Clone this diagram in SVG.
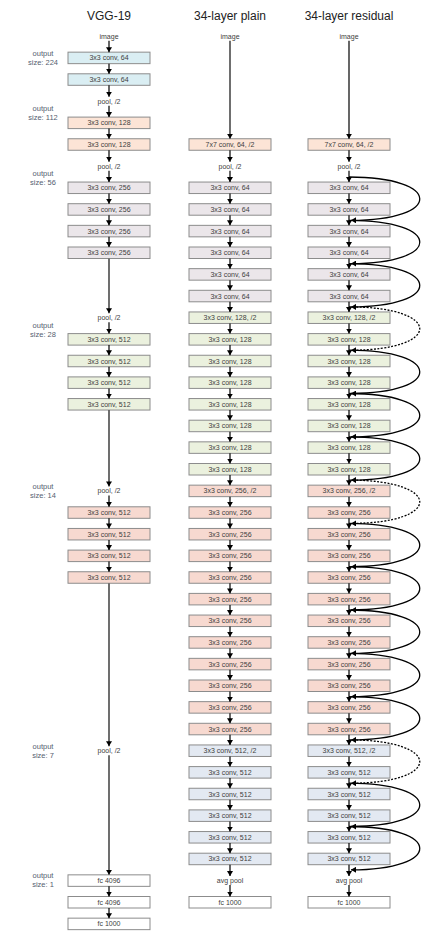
<svg xmlns="http://www.w3.org/2000/svg" width="423" height="931" viewBox="0 0 423 931">
<defs>
<marker id="ah" markerUnits="userSpaceOnUse" viewBox="0 0 5 6" markerWidth="5" markerHeight="6" refX="5" refY="3" orient="auto"><path d="M0,0 L5,3 L0,6 z" fill="#000"/></marker>
<style>
rect{stroke:#8c8c8c;stroke-width:1}
.blue{fill:#daeef3}.peach{fill:#fce4d6}.lav{fill:#ebe6ea}.green{fill:#ebf1de}.pink{fill:#f7d9d0}.steel{fill:#e3e9f2}.white{fill:#fff}
text{font-family:"Liberation Sans",Arial,sans-serif;font-size:7px;fill:#404040;text-anchor:middle}
.title{font-size:12px;fill:#222}
.os{font-size:7.5px;fill:#556070}
.a{stroke:#000;stroke-width:1.2;marker-end:url(#ah)}
.L{stroke:#5f5f5f;stroke-width:1.8;marker-end:url(#ah)}
.s{fill:none;stroke:#000;stroke-width:1.3;marker-end:url(#ah)}
.d{fill:none;stroke:#000;stroke-width:1.3;stroke-dasharray:2 1.5;marker-end:url(#ah)}
</style>
</defs>
<rect x="0" y="0" width="423" height="931" style="fill:#fff;stroke:none"/>
<g id="titles">
<text class="title" x="109" y="20">VGG-19</text>
<text class="title" x="230" y="20">34-layer plain</text>
<text class="title" x="349" y="20">34-layer residual</text>
</g>
<g id="output-sizes">
<text class="os" x="43" y="55.5">output</text><text class="os" x="43" y="64.5">size: 224</text>
<text class="os" x="43" y="110.5">output</text><text class="os" x="43" y="119.5">size: 112</text>
<text class="os" x="43" y="175.5">output</text><text class="os" x="43" y="185">size: 56</text>
<text class="os" x="43" y="327.5">output</text><text class="os" x="43" y="337">size: 28</text>
<text class="os" x="43" y="488.5">output</text><text class="os" x="43" y="498">size: 14</text>
<text class="os" x="43" y="748.5">output</text><text class="os" x="43" y="758">size: 7</text>
<text class="os" x="43" y="877.5">output</text><text class="os" x="43" y="887">size: 1</text>
</g>
<!-- VGG-19 -->
<g id="v-image"><text x="109" y="38.75">image</text></g>
<g id="v1"><rect class="blue" x="68" y="52.15" width="82" height="11.5"/><text x="109" y="60.4">3x3 conv, 64</text></g>
<g id="v2"><rect class="blue" x="68" y="73.8" width="82" height="11.5"/><text x="109" y="82.05">3x3 conv, 64</text></g>
<g id="v-pool1"><text x="109" y="103.7">pool, /2</text></g>
<g id="v3"><rect class="peach" x="68" y="117.1" width="82" height="11.5"/><text x="109" y="125.35">3x3 conv, 128</text></g>
<g id="v4"><rect class="peach" x="68" y="138.75" width="82" height="11.5"/><text x="109" y="147">3x3 conv, 128</text></g>
<g id="v-pool2"><text x="109" y="168.65">pool, /2</text></g>
<g id="v5"><rect class="lav" x="68" y="182.05" width="82" height="11.5"/><text x="109" y="190.3">3x3 conv, 256</text></g>
<g id="v6"><rect class="lav" x="68" y="203.7" width="82" height="11.5"/><text x="109" y="211.95">3x3 conv, 256</text></g>
<g id="v7"><rect class="lav" x="68" y="225.35" width="82" height="11.5"/><text x="109" y="233.6">3x3 conv, 256</text></g>
<g id="v8"><rect class="lav" x="68" y="247" width="82" height="11.5"/><text x="109" y="255.25">3x3 conv, 256</text></g>
<g id="v-pool3"><text x="109" y="320.2">pool, /2</text></g>
<g id="v9"><rect class="green" x="68" y="333.6" width="82" height="11.5"/><text x="109" y="341.85">3x3 conv, 512</text></g>
<g id="v10"><rect class="green" x="68" y="355.25" width="82" height="11.5"/><text x="109" y="363.5">3x3 conv, 512</text></g>
<g id="v11"><rect class="green" x="68" y="376.9" width="82" height="11.5"/><text x="109" y="385.15">3x3 conv, 512</text></g>
<g id="v12"><rect class="green" x="68" y="398.55" width="82" height="11.5"/><text x="109" y="406.8">3x3 conv, 512</text></g>
<g id="v-pool4"><text x="109" y="493.4">pool, /2</text></g>
<g id="v13"><rect class="pink" x="68" y="506.8" width="82" height="11.5"/><text x="109" y="515.05">3x3 conv, 512</text></g>
<g id="v14"><rect class="pink" x="68" y="528.45" width="82" height="11.5"/><text x="109" y="536.7">3x3 conv, 512</text></g>
<g id="v15"><rect class="pink" x="68" y="550.1" width="82" height="11.5"/><text x="109" y="558.35">3x3 conv, 512</text></g>
<g id="v16"><rect class="pink" x="68" y="571.75" width="82" height="11.5"/><text x="109" y="580">3x3 conv, 512</text></g>
<g id="v-pool5"><text x="109" y="753.2">pool, /2</text></g>
<g id="v-fc1"><rect class="white" x="68" y="874.85" width="82" height="11.5"/><text x="109" y="883.1">fc 4096</text></g>
<g id="v-fc2"><rect class="white" x="68" y="896.5" width="82" height="11.5"/><text x="109" y="904.75">fc 4096</text></g>
<g id="v-fc3"><rect class="white" x="68" y="918.15" width="82" height="11.5"/><text x="109" y="926.4">fc 1000</text></g>
<!-- plain -->
<g id="p-image"><text x="230" y="38.75">image</text></g>
<g id="p0"><rect class="peach" x="189" y="138.75" width="82" height="11.5"/><text x="230" y="147">7x7 conv, 64, /2</text></g>
<g id="p-pool"><text x="230" y="168.65">pool, /2</text></g>
<g id="p1"><rect class="lav" x="189" y="182.05" width="82" height="11.5"/><text x="230" y="190.3">3x3 conv, 64</text></g>
<g id="p2"><rect class="lav" x="189" y="203.7" width="82" height="11.5"/><text x="230" y="211.95">3x3 conv, 64</text></g>
<g id="p3"><rect class="lav" x="189" y="225.35" width="82" height="11.5"/><text x="230" y="233.6">3x3 conv, 64</text></g>
<g id="p4"><rect class="lav" x="189" y="247" width="82" height="11.5"/><text x="230" y="255.25">3x3 conv, 64</text></g>
<g id="p5"><rect class="lav" x="189" y="268.65" width="82" height="11.5"/><text x="230" y="276.9">3x3 conv, 64</text></g>
<g id="p6"><rect class="lav" x="189" y="290.3" width="82" height="11.5"/><text x="230" y="298.55">3x3 conv, 64</text></g>
<g id="p7"><rect class="green" x="189" y="311.95" width="82" height="11.5"/><text x="230" y="320.2">3x3 conv, 128, /2</text></g>
<g id="p8"><rect class="green" x="189" y="333.6" width="82" height="11.5"/><text x="230" y="341.85">3x3 conv, 128</text></g>
<g id="p9"><rect class="green" x="189" y="355.25" width="82" height="11.5"/><text x="230" y="363.5">3x3 conv, 128</text></g>
<g id="p10"><rect class="green" x="189" y="376.9" width="82" height="11.5"/><text x="230" y="385.15">3x3 conv, 128</text></g>
<g id="p11"><rect class="green" x="189" y="398.55" width="82" height="11.5"/><text x="230" y="406.8">3x3 conv, 128</text></g>
<g id="p12"><rect class="green" x="189" y="420.2" width="82" height="11.5"/><text x="230" y="428.45">3x3 conv, 128</text></g>
<g id="p13"><rect class="green" x="189" y="441.85" width="82" height="11.5"/><text x="230" y="450.1">3x3 conv, 128</text></g>
<g id="p14"><rect class="green" x="189" y="463.5" width="82" height="11.5"/><text x="230" y="471.75">3x3 conv, 128</text></g>
<g id="p15"><rect class="pink" x="189" y="485.15" width="82" height="11.5"/><text x="230" y="493.4">3x3 conv, 256, /2</text></g>
<g id="p16"><rect class="pink" x="189" y="506.8" width="82" height="11.5"/><text x="230" y="515.05">3x3 conv, 256</text></g>
<g id="p17"><rect class="pink" x="189" y="528.45" width="82" height="11.5"/><text x="230" y="536.7">3x3 conv, 256</text></g>
<g id="p18"><rect class="pink" x="189" y="550.1" width="82" height="11.5"/><text x="230" y="558.35">3x3 conv, 256</text></g>
<g id="p19"><rect class="pink" x="189" y="571.75" width="82" height="11.5"/><text x="230" y="580">3x3 conv, 256</text></g>
<g id="p20"><rect class="pink" x="189" y="593.4" width="82" height="11.5"/><text x="230" y="601.65">3x3 conv, 256</text></g>
<g id="p21"><rect class="pink" x="189" y="615.05" width="82" height="11.5"/><text x="230" y="623.3">3x3 conv, 256</text></g>
<g id="p22"><rect class="pink" x="189" y="636.7" width="82" height="11.5"/><text x="230" y="644.95">3x3 conv, 256</text></g>
<g id="p23"><rect class="pink" x="189" y="658.35" width="82" height="11.5"/><text x="230" y="666.6">3x3 conv, 256</text></g>
<g id="p24"><rect class="pink" x="189" y="680" width="82" height="11.5"/><text x="230" y="688.25">3x3 conv, 256</text></g>
<g id="p25"><rect class="pink" x="189" y="701.65" width="82" height="11.5"/><text x="230" y="709.9">3x3 conv, 256</text></g>
<g id="p26"><rect class="pink" x="189" y="723.3" width="82" height="11.5"/><text x="230" y="731.55">3x3 conv, 256</text></g>
<g id="p27"><rect class="steel" x="189" y="744.95" width="82" height="11.5"/><text x="230" y="753.2">3x3 conv, 512, /2</text></g>
<g id="p28"><rect class="steel" x="189" y="766.6" width="82" height="11.5"/><text x="230" y="774.85">3x3 conv, 512</text></g>
<g id="p29"><rect class="steel" x="189" y="788.25" width="82" height="11.5"/><text x="230" y="796.5">3x3 conv, 512</text></g>
<g id="p30"><rect class="steel" x="189" y="809.9" width="82" height="11.5"/><text x="230" y="818.15">3x3 conv, 512</text></g>
<g id="p31"><rect class="steel" x="189" y="831.55" width="82" height="11.5"/><text x="230" y="839.8">3x3 conv, 512</text></g>
<g id="p32"><rect class="steel" x="189" y="853.2" width="82" height="11.5"/><text x="230" y="861.45">3x3 conv, 512</text></g>
<g id="p-avgpool"><text x="230" y="883.1">avg pool</text></g>
<g id="p-fc"><rect class="white" x="189" y="896.5" width="82" height="11.5"/><text x="230" y="904.75">fc 1000</text></g>
<!-- residual -->
<g id="r-image"><text x="349" y="38.75">image</text></g>
<g id="r0"><rect class="peach" x="308" y="138.75" width="82" height="11.5"/><text x="349" y="147">7x7 conv, 64, /2</text></g>
<g id="r-pool"><text x="349" y="168.65">pool, /2</text></g>
<g id="r1"><rect class="lav" x="308" y="182.05" width="82" height="11.5"/><text x="349" y="190.3">3x3 conv, 64</text></g>
<g id="r2"><rect class="lav" x="308" y="203.7" width="82" height="11.5"/><text x="349" y="211.95">3x3 conv, 64</text></g>
<g id="r3"><rect class="lav" x="308" y="225.35" width="82" height="11.5"/><text x="349" y="233.6">3x3 conv, 64</text></g>
<g id="r4"><rect class="lav" x="308" y="247" width="82" height="11.5"/><text x="349" y="255.25">3x3 conv, 64</text></g>
<g id="r5"><rect class="lav" x="308" y="268.65" width="82" height="11.5"/><text x="349" y="276.9">3x3 conv, 64</text></g>
<g id="r6"><rect class="lav" x="308" y="290.3" width="82" height="11.5"/><text x="349" y="298.55">3x3 conv, 64</text></g>
<g id="r7"><rect class="green" x="308" y="311.95" width="82" height="11.5"/><text x="349" y="320.2">3x3 conv, 128, /2</text></g>
<g id="r8"><rect class="green" x="308" y="333.6" width="82" height="11.5"/><text x="349" y="341.85">3x3 conv, 128</text></g>
<g id="r9"><rect class="green" x="308" y="355.25" width="82" height="11.5"/><text x="349" y="363.5">3x3 conv, 128</text></g>
<g id="r10"><rect class="green" x="308" y="376.9" width="82" height="11.5"/><text x="349" y="385.15">3x3 conv, 128</text></g>
<g id="r11"><rect class="green" x="308" y="398.55" width="82" height="11.5"/><text x="349" y="406.8">3x3 conv, 128</text></g>
<g id="r12"><rect class="green" x="308" y="420.2" width="82" height="11.5"/><text x="349" y="428.45">3x3 conv, 128</text></g>
<g id="r13"><rect class="green" x="308" y="441.85" width="82" height="11.5"/><text x="349" y="450.1">3x3 conv, 128</text></g>
<g id="r14"><rect class="green" x="308" y="463.5" width="82" height="11.5"/><text x="349" y="471.75">3x3 conv, 128</text></g>
<g id="r15"><rect class="pink" x="308" y="485.15" width="82" height="11.5"/><text x="349" y="493.4">3x3 conv, 256, /2</text></g>
<g id="r16"><rect class="pink" x="308" y="506.8" width="82" height="11.5"/><text x="349" y="515.05">3x3 conv, 256</text></g>
<g id="r17"><rect class="pink" x="308" y="528.45" width="82" height="11.5"/><text x="349" y="536.7">3x3 conv, 256</text></g>
<g id="r18"><rect class="pink" x="308" y="550.1" width="82" height="11.5"/><text x="349" y="558.35">3x3 conv, 256</text></g>
<g id="r19"><rect class="pink" x="308" y="571.75" width="82" height="11.5"/><text x="349" y="580">3x3 conv, 256</text></g>
<g id="r20"><rect class="pink" x="308" y="593.4" width="82" height="11.5"/><text x="349" y="601.65">3x3 conv, 256</text></g>
<g id="r21"><rect class="pink" x="308" y="615.05" width="82" height="11.5"/><text x="349" y="623.3">3x3 conv, 256</text></g>
<g id="r22"><rect class="pink" x="308" y="636.7" width="82" height="11.5"/><text x="349" y="644.95">3x3 conv, 256</text></g>
<g id="r23"><rect class="pink" x="308" y="658.35" width="82" height="11.5"/><text x="349" y="666.6">3x3 conv, 256</text></g>
<g id="r24"><rect class="pink" x="308" y="680" width="82" height="11.5"/><text x="349" y="688.25">3x3 conv, 256</text></g>
<g id="r25"><rect class="pink" x="308" y="701.65" width="82" height="11.5"/><text x="349" y="709.9">3x3 conv, 256</text></g>
<g id="r26"><rect class="pink" x="308" y="723.3" width="82" height="11.5"/><text x="349" y="731.55">3x3 conv, 256</text></g>
<g id="r27"><rect class="steel" x="308" y="744.95" width="82" height="11.5"/><text x="349" y="753.2">3x3 conv, 512, /2</text></g>
<g id="r28"><rect class="steel" x="308" y="766.6" width="82" height="11.5"/><text x="349" y="774.85">3x3 conv, 512</text></g>
<g id="r29"><rect class="steel" x="308" y="788.25" width="82" height="11.5"/><text x="349" y="796.5">3x3 conv, 512</text></g>
<g id="r30"><rect class="steel" x="308" y="809.9" width="82" height="11.5"/><text x="349" y="818.15">3x3 conv, 512</text></g>
<g id="r31"><rect class="steel" x="308" y="831.55" width="82" height="11.5"/><text x="349" y="839.8">3x3 conv, 512</text></g>
<g id="r32"><rect class="steel" x="308" y="853.2" width="82" height="11.5"/><text x="349" y="861.45">3x3 conv, 512</text></g>
<g id="r-avgpool"><text x="349" y="883.1">avg pool</text></g>
<g id="r-fc"><rect class="white" x="308" y="896.5" width="82" height="11.5"/><text x="349" y="904.75">fc 1000</text></g>
<g id="connectors">
<!-- VGG -->
<line class="a" x1="109" y1="40.75" x2="109" y2="52.15"/>
<line class="a" x1="109" y1="63.65" x2="109" y2="73.8"/>
<line class="a" x1="109" y1="85.3" x2="109" y2="96.7"/>
<line class="a" x1="109" y1="105.7" x2="109" y2="117.1"/>
<line class="a" x1="109" y1="128.6" x2="109" y2="138.75"/>
<line class="a" x1="109" y1="150.25" x2="109" y2="161.65"/>
<line class="a" x1="109" y1="170.65" x2="109" y2="182.05"/>
<line class="a" x1="109" y1="193.55" x2="109" y2="203.7"/>
<line class="a" x1="109" y1="215.2" x2="109" y2="225.35"/>
<line class="a" x1="109" y1="236.85" x2="109" y2="247"/>
<line class="L" x1="109" y1="258.5" x2="109" y2="313.2"/>
<line class="a" x1="109" y1="322.2" x2="109" y2="333.6"/>
<line class="a" x1="109" y1="345.1" x2="109" y2="355.25"/>
<line class="a" x1="109" y1="366.75" x2="109" y2="376.9"/>
<line class="a" x1="109" y1="388.4" x2="109" y2="398.55"/>
<line class="L" x1="109" y1="410.05" x2="109" y2="486.4"/>
<line class="a" x1="109" y1="495.4" x2="109" y2="506.8"/>
<line class="a" x1="109" y1="518.3" x2="109" y2="528.45"/>
<line class="a" x1="109" y1="539.95" x2="109" y2="550.1"/>
<line class="a" x1="109" y1="561.6" x2="109" y2="571.75"/>
<line class="L" x1="109" y1="583.25" x2="109" y2="746.2"/>
<line class="L" x1="109" y1="755.2" x2="109" y2="874.85"/>
<line class="a" x1="109" y1="886.35" x2="109" y2="896.5"/>
<line class="a" x1="109" y1="908" x2="109" y2="918.15"/>
<!-- plain -->
<line class="L" x1="230" y1="40.75" x2="230" y2="138.75"/>
<line class="a" x1="230" y1="150.25" x2="230" y2="161.65"/>
<line class="a" x1="230" y1="170.65" x2="230" y2="182.05"/>
<line class="a" x1="230" y1="193.55" x2="230" y2="203.7"/>
<line class="a" x1="230" y1="215.2" x2="230" y2="225.35"/>
<line class="a" x1="230" y1="236.85" x2="230" y2="247"/>
<line class="a" x1="230" y1="258.5" x2="230" y2="268.65"/>
<line class="a" x1="230" y1="280.15" x2="230" y2="290.3"/>
<line class="a" x1="230" y1="301.8" x2="230" y2="311.95"/>
<line class="a" x1="230" y1="323.45" x2="230" y2="333.6"/>
<line class="a" x1="230" y1="345.1" x2="230" y2="355.25"/>
<line class="a" x1="230" y1="366.75" x2="230" y2="376.9"/>
<line class="a" x1="230" y1="388.4" x2="230" y2="398.55"/>
<line class="a" x1="230" y1="410.05" x2="230" y2="420.2"/>
<line class="a" x1="230" y1="431.7" x2="230" y2="441.85"/>
<line class="a" x1="230" y1="453.35" x2="230" y2="463.5"/>
<line class="a" x1="230" y1="475" x2="230" y2="485.15"/>
<line class="a" x1="230" y1="496.65" x2="230" y2="506.8"/>
<line class="a" x1="230" y1="518.3" x2="230" y2="528.45"/>
<line class="a" x1="230" y1="539.95" x2="230" y2="550.1"/>
<line class="a" x1="230" y1="561.6" x2="230" y2="571.75"/>
<line class="a" x1="230" y1="583.25" x2="230" y2="593.4"/>
<line class="a" x1="230" y1="604.9" x2="230" y2="615.05"/>
<line class="a" x1="230" y1="626.55" x2="230" y2="636.7"/>
<line class="a" x1="230" y1="648.2" x2="230" y2="658.35"/>
<line class="a" x1="230" y1="669.85" x2="230" y2="680"/>
<line class="a" x1="230" y1="691.5" x2="230" y2="701.65"/>
<line class="a" x1="230" y1="713.15" x2="230" y2="723.3"/>
<line class="a" x1="230" y1="734.8" x2="230" y2="744.95"/>
<line class="a" x1="230" y1="756.45" x2="230" y2="766.6"/>
<line class="a" x1="230" y1="778.1" x2="230" y2="788.25"/>
<line class="a" x1="230" y1="799.75" x2="230" y2="809.9"/>
<line class="a" x1="230" y1="821.4" x2="230" y2="831.55"/>
<line class="a" x1="230" y1="843.05" x2="230" y2="853.2"/>
<line class="a" x1="230" y1="864.7" x2="230" y2="876.1"/>
<line class="a" x1="230" y1="885.1" x2="230" y2="896.5"/>
<!-- residual -->
<line class="a" x1="349" y1="40.75" x2="349" y2="138.75"/>
<line class="a" x1="349" y1="150.25" x2="349" y2="161.65"/>
<line class="a" x1="349" y1="170.65" x2="349" y2="182.05"/>
<line class="a" x1="349" y1="193.55" x2="349" y2="203.7"/>
<line class="a" x1="349" y1="215.2" x2="349" y2="225.35"/>
<line class="a" x1="349" y1="236.85" x2="349" y2="247"/>
<line class="a" x1="349" y1="258.5" x2="349" y2="268.65"/>
<line class="a" x1="349" y1="280.15" x2="349" y2="290.3"/>
<line class="a" x1="349" y1="301.8" x2="349" y2="311.95"/>
<line class="a" x1="349" y1="323.45" x2="349" y2="333.6"/>
<line class="a" x1="349" y1="345.1" x2="349" y2="355.25"/>
<line class="a" x1="349" y1="366.75" x2="349" y2="376.9"/>
<line class="a" x1="349" y1="388.4" x2="349" y2="398.55"/>
<line class="a" x1="349" y1="410.05" x2="349" y2="420.2"/>
<line class="a" x1="349" y1="431.7" x2="349" y2="441.85"/>
<line class="a" x1="349" y1="453.35" x2="349" y2="463.5"/>
<line class="a" x1="349" y1="475" x2="349" y2="485.15"/>
<line class="a" x1="349" y1="496.65" x2="349" y2="506.8"/>
<line class="a" x1="349" y1="518.3" x2="349" y2="528.45"/>
<line class="a" x1="349" y1="539.95" x2="349" y2="550.1"/>
<line class="a" x1="349" y1="561.6" x2="349" y2="571.75"/>
<line class="a" x1="349" y1="583.25" x2="349" y2="593.4"/>
<line class="a" x1="349" y1="604.9" x2="349" y2="615.05"/>
<line class="a" x1="349" y1="626.55" x2="349" y2="636.7"/>
<line class="a" x1="349" y1="648.2" x2="349" y2="658.35"/>
<line class="a" x1="349" y1="669.85" x2="349" y2="680"/>
<line class="a" x1="349" y1="691.5" x2="349" y2="701.65"/>
<line class="a" x1="349" y1="713.15" x2="349" y2="723.3"/>
<line class="a" x1="349" y1="734.8" x2="349" y2="744.95"/>
<line class="a" x1="349" y1="756.45" x2="349" y2="766.6"/>
<line class="a" x1="349" y1="778.1" x2="349" y2="788.25"/>
<line class="a" x1="349" y1="799.75" x2="349" y2="809.9"/>
<line class="a" x1="349" y1="821.4" x2="349" y2="831.55"/>
<line class="a" x1="349" y1="843.05" x2="349" y2="853.2"/>
<line class="a" x1="349" y1="864.7" x2="349" y2="876.1"/>
<line class="a" x1="349" y1="885.1" x2="349" y2="896.5"/>
<!-- shortcuts -->
<path class="s" d="M349 177 C443 177 443 220.3 351 220.3"/>
<path class="s" d="M349 220.3 C443 220.3 443 263.6 351 263.6"/>
<path class="s" d="M349 263.6 C443 263.6 443 306.9 351 306.9"/>
<path class="d" d="M349 306.9 C443 306.9 443 350.2 351 350.2"/>
<path class="s" d="M349 350.2 C443 350.2 443 393.5 351 393.5"/>
<path class="s" d="M349 393.5 C443 393.5 443 436.8 351 436.8"/>
<path class="s" d="M349 436.8 C443 436.8 443 480.1 351 480.1"/>
<path class="d" d="M349 480.1 C443 480.1 443 523.4 351 523.4"/>
<path class="s" d="M349 523.4 C443 523.4 443 566.7 351 566.7"/>
<path class="s" d="M349 566.7 C443 566.7 443 610 351 610"/>
<path class="s" d="M349 610 C443 610 443 653.3 351 653.3"/>
<path class="s" d="M349 653.3 C443 653.3 443 696.6 351 696.6"/>
<path class="s" d="M349 696.6 C443 696.6 443 739.9 351 739.9"/>
<path class="d" d="M349 739.9 C443 739.9 443 783.2 351 783.2"/>
<path class="s" d="M349 783.2 C443 783.2 443 826.5 351 826.5"/>
<path class="s" d="M349 826.5 C443 826.5 443 869.8 351 869.8"/>
</g>
</svg>
